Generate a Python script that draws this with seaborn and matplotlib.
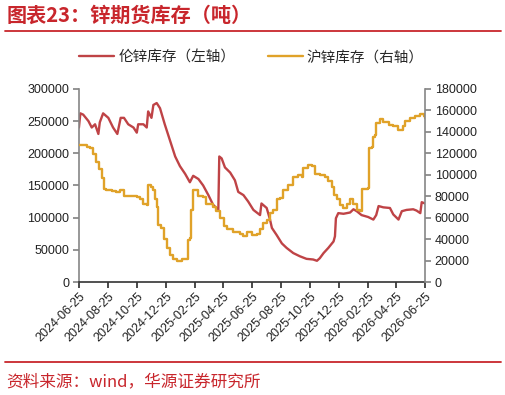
import pandas as pd
import numpy as np
import matplotlib
matplotlib.use("Agg")
import matplotlib.pyplot as plt
import matplotlib.dates as mdates
import seaborn as sns

# LME zinc inventory (left axis, t)
lme_dates = ["2024-06-25", "2024-06-28", "2024-07-04", "2024-07-15", "2024-07-22", "2024-07-29",
             "2024-08-05", "2024-08-08", "2024-08-15", "2024-08-26", "2024-09-05", "2024-09-14",
             "2024-09-21", "2024-09-28", "2024-10-07", "2024-10-18", "2024-10-25", "2024-10-28",
             "2024-11-08", "2024-11-15", "2024-11-18", "2024-11-25", "2024-11-29", "2024-12-06",
             "2024-12-13", "2024-12-23", "2025-01-03", "2025-01-14", "2025-01-24", "2025-02-04",
             "2025-02-14", "2025-02-21", "2025-03-04", "2025-03-14", "2025-03-25", "2025-04-04",
             "2025-04-15", "2025-04-17", "2025-04-22", "2025-04-29", "2025-05-10", "2025-05-20",
             "2025-05-27", "2025-06-07", "2025-06-17", "2025-06-28", "2025-07-12", "2025-07-15",
             "2025-07-26", "2025-08-02", "2025-08-06", "2025-08-16", "2025-08-27", "2025-09-06",
             "2025-09-20", "2025-10-04", "2025-10-18", "2025-11-01", "2025-11-09", "2025-11-15",
             "2025-11-23", "2025-12-03", "2025-12-14", "2025-12-17", "2025-12-19", "2025-12-24",
             "2026-01-04", "2026-01-18", "2026-01-25", "2026-02-01", "2026-02-11", "2026-02-25",
             "2026-03-08", "2026-03-14", "2026-03-19", "2026-03-29", "2026-04-12", "2026-04-19",
             "2026-04-30", "2026-05-07", "2026-05-17", "2026-05-31", "2026-06-07", "2026-06-15",
             "2026-06-18", "2026-06-25"]
lme_stock = [240000, 262000, 260000, 250000, 240000, 245000,
             230000, 248000, 262000, 255000, 240000, 230000,
             255000, 255000, 245000, 240000, 232000, 245000,
             245000, 240000, 265000, 255000, 275000, 278000,
             270000, 245000, 220000, 195000, 180000, 168000,
             155000, 165000, 160000, 150000, 135000, 120000,
             112000, 195000, 192000, 178000, 170000, 158000,
             140000, 135000, 125000, 112000, 104000, 122000,
             115000, 97000, 84000, 73000, 60000, 53000,
             45000, 40000, 36000, 35000, 33000, 37000,
             45000, 53000, 63000, 71000, 99000, 107000,
             106000, 108000, 113000, 110000, 104000, 101000,
             97000, 104000, 118000, 116000, 115000, 105000,
             97000, 110000, 112000, 113000, 111000, 107000,
             124000, 122000]

# SHFE zinc inventory (right axis, t)
shfe_dates = ["2024-06-25", "2024-07-11", "2024-07-18", "2024-07-25", "2024-08-01", "2024-08-07",
              "2024-08-12", "2024-08-17", "2024-08-22", "2024-09-02", "2024-09-12", "2024-09-20",
              "2024-09-27", "2024-10-11", "2024-10-25", "2024-11-01", "2024-11-08", "2024-11-15",
              "2024-11-17", "2024-11-23", "2024-11-29", "2024-12-02", "2024-12-06", "2024-12-08",
              "2024-12-16", "2024-12-21", "2024-12-27", "2025-01-03", "2025-01-10", "2025-01-17",
              "2025-01-28", "2025-02-06", "2025-02-09", "2025-02-14", "2025-02-16", "2025-02-20",
              "2025-02-21", "2025-02-28", "2025-03-04", "2025-03-14", "2025-03-21", "2025-04-04",
              "2025-04-11", "2025-04-18", "2025-04-26", "2025-05-03", "2025-05-17", "2025-05-31",
              "2025-06-07", "2025-06-14", "2025-06-24", "2025-07-05", "2025-07-12", "2025-07-19",
              "2025-07-26", "2025-08-02", "2025-08-09", "2025-08-16", "2025-08-23", "2025-08-30",
              "2025-09-10", "2025-09-20", "2025-10-01", "2025-10-08", "2025-10-11", "2025-10-22",
              "2025-10-29", "2025-11-05", "2025-11-15", "2025-11-26", "2025-12-03", "2025-12-10",
              "2025-12-14", "2025-12-21", "2025-12-28", "2026-01-04", "2026-01-11", "2026-01-18",
              "2026-01-25", "2026-02-01", "2026-02-08", "2026-02-11", "2026-02-13", "2026-02-25",
              "2026-02-27", "2026-03-05", "2026-03-07", "2026-03-12", "2026-03-14", "2026-03-22",
              "2026-03-29", "2026-04-09", "2026-04-19", "2026-04-30", "2026-05-10", "2026-05-14",
              "2026-05-24", "2026-06-04", "2026-06-15", "2026-06-22", "2026-06-25"]
shfe_stock = [128000, 126000, 125000, 119000, 112000, 105000,
              97000, 87000, 86000, 85000, 84000, 86000,
              80000, 80000, 79000, 77000, 73000, 72000,
              90000, 89000, 86000, 77000, 70000, 53000,
              50000, 40000, 32000, 25000, 21000, 20000,
              21000, 21000, 39000, 41000, 67000, 69000,
              86000, 86000, 80000, 79000, 73000, 70000,
              66000, 60000, 52000, 49000, 47000, 45000,
              43000, 47000, 44000, 45000, 49000, 55000,
              58000, 64000, 67000, 77000, 78000, 86000,
              90000, 98000, 100000, 98000, 106000, 109000,
              108000, 101000, 100000, 98000, 94000, 89000,
              81000, 77000, 72000, 69000, 73000, 77000,
              73000, 67000, 66000, 70000, 87000, 88000,
              125000, 126000, 135000, 137000, 148000, 152000,
              149000, 146000, 145000, 142000, 145000, 150000,
              153000, 155000, 157000, 155000, 153000]

tick_dates = ["2024-06-25", "2024-08-25", "2024-10-25", "2024-12-25", "2025-02-25", "2025-04-25",
              "2025-06-25", "2025-08-25", "2025-10-25", "2025-12-25", "2026-02-25", "2026-04-25",
              "2026-06-25"]

lme = pd.DataFrame({"date": pd.to_datetime(lme_dates), "stock": lme_stock})
shfe = pd.DataFrame({"date": pd.to_datetime(shfe_dates), "stock": shfe_stock})

sns.set_theme(style="white")
plt.rcParams["font.family"] = ["Liberation Sans", "Noto Sans CJK SC", "DejaVu Sans"]

red = "#BF4346"
yellow = "#E0A229"
title_red = "#C8262C"

fig = plt.figure(figsize=(5.06, 3.95), dpi=100)
ax = fig.add_axes([0.156, 0.286, 0.684, 0.489])
ax2 = ax.twinx()

sns.lineplot(x="date", y="stock", data=lme, ax=ax, color=red, linewidth=1.7,
             label="伦锌库存（左轴）", legend=False)
sns.lineplot(x="date", y="stock", data=shfe, ax=ax2, color=yellow, linewidth=1.7,
             drawstyle="steps-post", label="沪锌库存（右轴）", legend=False)

ax.set_xlim(pd.Timestamp("2024-06-25"), pd.Timestamp("2026-06-25"))
ax.set_ylim(0, 300000)
ax2.set_ylim(0, 180000)
ax.set_yticks(np.arange(0, 300001, 50000))
ax2.set_yticks(np.arange(0, 180001, 20000))
ax.set_xticks(pd.to_datetime(tick_dates))
ax.xaxis.set_major_formatter(mdates.DateFormatter("%Y-%m-%d"))
ax.set_xlabel("")
ax.set_ylabel("")
ax2.set_ylabel("")

for a in (ax, ax2):
    a.spines["top"].set_visible(False)
ax.spines["right"].set_visible(False)
ax2.spines["left"].set_visible(False)
ax2.spines["bottom"].set_visible(False)
ax.spines["left"].set_color("#868686")
ax2.spines["right"].set_color("#868686")
ax.spines["bottom"].set_color("#333333")
for a in (ax, ax2):
    for s in a.spines.values():
        s.set_linewidth(1.2)

ax.tick_params(axis="y", which="major", direction="out", length=4, color="#868686",
               labelsize=9, labelcolor="#222222", left=True, pad=3)
ax2.tick_params(axis="y", which="major", direction="out", length=4, color="#868686",
                labelsize=9, labelcolor="#222222", right=True, pad=3)
ax.tick_params(axis="x", which="major", direction="out", length=4, color="#333333",
               labelsize=9, labelcolor="#222222", bottom=True, pad=2)
plt.setp(ax.get_xticklabels(), rotation=45, ha="right", rotation_mode="anchor")

h1, l1 = ax.get_legend_handles_labels()
h2, l2 = ax2.get_legend_handles_labels()
fig.legend(h1 + h2, l1 + l2, loc="center", bbox_to_anchor=(0.497, 0.855), ncol=2,
           frameon=False, handlelength=2.4, handletextpad=0.3, columnspacing=2.2,
           prop={"family": ["Noto Sans CJK SC"], "size": 10.5})

fig.text(0.012, 0.962, "图表23：锌期货库存（吨）", color=title_red, fontsize=14.5,
         fontweight="bold", family=["Noto Sans CJK SC"], va="center", ha="left")
fig.add_artist(plt.Line2D([0.01, 0.99], [0.922, 0.922], color=title_red, linewidth=1.3,
                          transform=fig.transFigure))
fig.add_artist(plt.Line2D([0.01, 0.99], [0.084, 0.084], color=title_red, linewidth=1.3,
                          transform=fig.transFigure))
fig.text(0.012, 0.034, "资料来源：wind，华源证券研究所", color=title_red, fontsize=12,
         family=["Noto Sans CJK SC"], va="center", ha="left")

fig.savefig("out.png", dpi=100)
